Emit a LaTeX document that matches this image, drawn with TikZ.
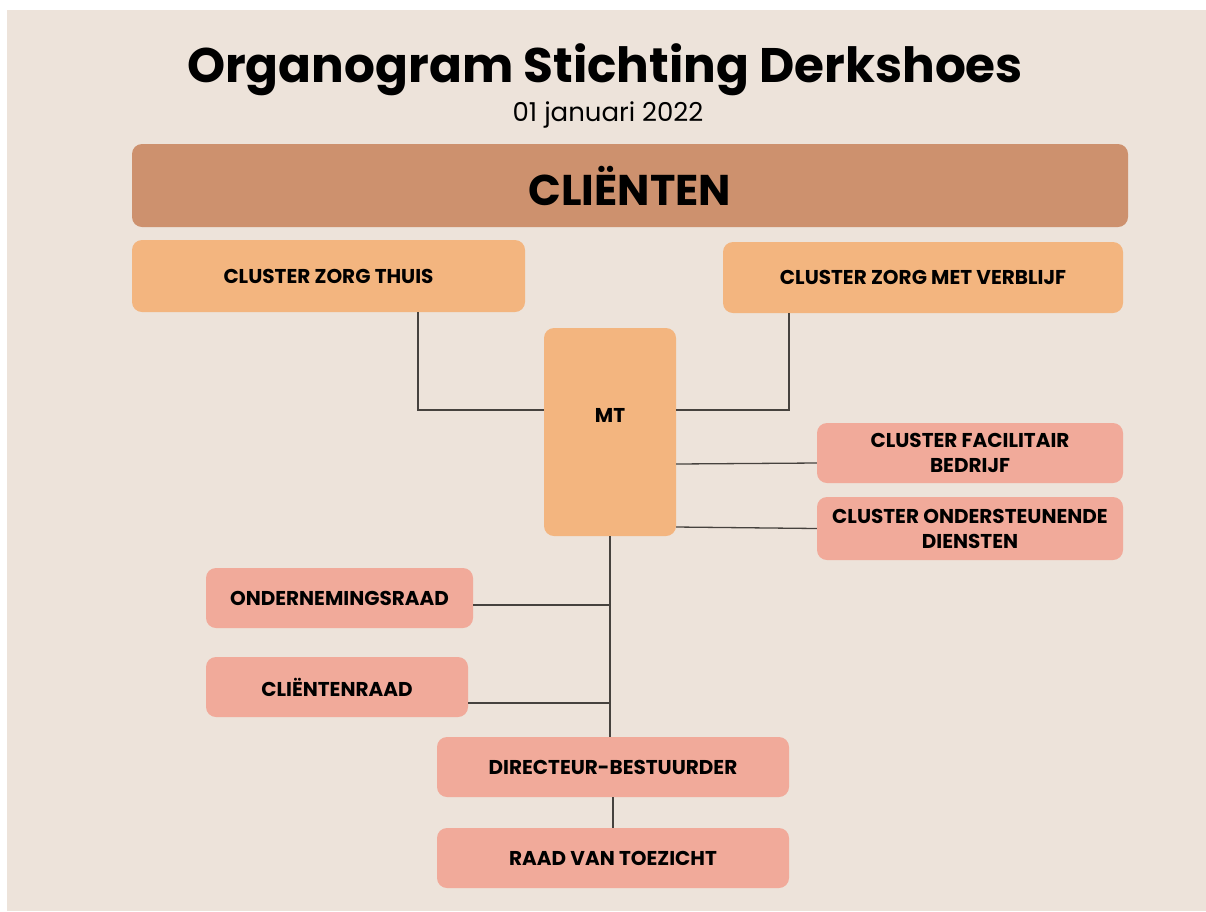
\documentclass[tikz,border=0pt]{standalone}
\usepackage{fontspec}
\setmainfont{Poppins}
\definecolor{paper}{RGB}{237, 227, 218}
\definecolor{clay}{RGB}{205, 145, 110}
\definecolor{apricot}{RGB}{243, 181, 127}
\definecolor{salmon}{RGB}{241, 170, 154}
\definecolor{wire}{RGB}{70, 66, 62}

\begin{document}
\begin{tikzpicture}[x=1pt, y=-1pt,
    box/.style={rounded corners=10pt, inner sep=0pt, align=center, font=\bfseries\fontsize{20}{25}\selectfont},
    orange/.style={box, fill=apricot},
    pink/.style={box, fill=salmon},
    link/.style={wire, line width=1.3pt}]
                \useasboundingbox (0,0) rectangle (1206,911);
                \fill[white] (0,0) rectangle (1206,911);
                \fill[paper] (7,10) rectangle (1206,911);
                \node (title) at (605,70) {\bfseries\fontsize{48.5}{58}\selectfont Organogram Stichting Derkshoes};
                \node (date) at (608,115) {\fontsize{26}{30}\selectfont 01 januari 2022};
                \node[box, fill=clay, minimum width=996, minimum height=83, font=\bfseries\fontsize{43}{50}\selectfont] (clienten) at (630,185.5) {CLIËNTEN};
                \node[orange, minimum width=393, minimum height=72] (zorgthuis) at (328.5,276) {CLUSTER ZORG THUIS};
                \node[orange, minimum width=400, minimum height=71] (zorgverblijf) at (923,277.5) {CLUSTER ZORG MET VERBLIJF};
                \node[orange, minimum width=132, minimum height=208, text depth=34pt] (mt) at (610,432) {MT};
                \node[pink, minimum width=306, minimum height=60] (facilitair) at (970,453) {CLUSTER FACILITAIR\\BEDRIJF};
                \node[pink, minimum width=306, minimum height=63] (ondersteunend) at (970,528.5) {CLUSTER ONDERSTEUNENDE\\DIENSTEN};
                \node[pink, minimum width=267, minimum height=60] (or) at (339.5,598) {ONDERNEMINGSRAAD};
                \node[pink, minimum width=262, minimum height=60] (cr) at (337,687) {CLIËNTENRAAD};
                \node[pink, minimum width=352, minimum height=60] (dir) at (613,767) {DIRECTEUR-BESTUURDER};
                \node[pink, minimum width=352, minimum height=60] (rvt) at (613,858) {RAAD VAN TOEZICHT};
                \draw[link] ([xshift=89.5pt]zorgthuis.south) |- ([yshift=22pt]mt.west);
                \draw[link] ([xshift=-134pt]zorgverblijf.south) |- ([yshift=22pt]mt.east);
                \draw[link] ([yshift=-32pt]mt.east) -- ([yshift=-10pt]facilitair.west);
                \draw[link] ([yshift=-95pt]mt.east) -- (ondersteunend.west);
                \draw[link] (mt.south) -- (mt.south |- dir.north);
                \draw[link] ([yshift=-7pt]or.east) -- ([yshift=-7pt]or.east -| mt.south);
                \draw[link] ([yshift=-16pt]cr.east) -- ([yshift=-16pt]cr.east -| mt.south);
                \draw[link] (dir) -- (rvt);
            \end{tikzpicture}
\end{document}
